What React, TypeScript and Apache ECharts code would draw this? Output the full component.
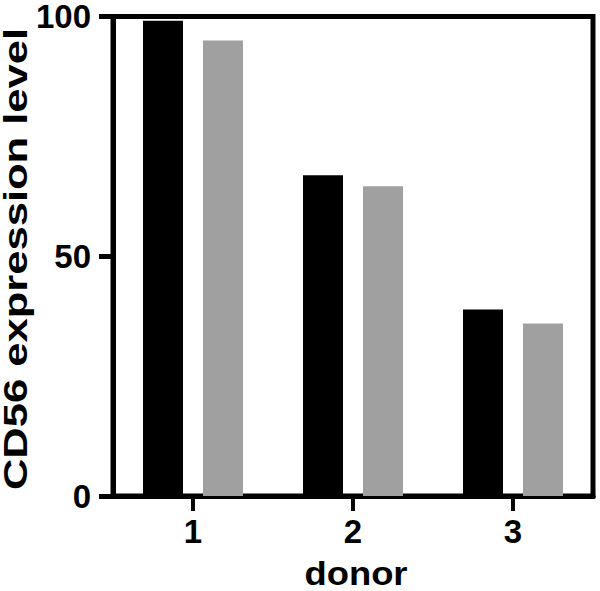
import React, { useEffect, useRef } from "react";
import * as echarts from "echarts";

const categories = ["1", "2", "3"];
const seriesBlack = [99.1, 66.9, 38.9];
const seriesGray = [95.0, 64.6, 36.0];
const yTicks = { min: 0, max: 100, interval: 50 };
const xTitle = "donor";
const yTitle = "CD56 expression level";

const FONT = '"Liberation Sans", Arial, Helvetica, sans-serif';

export default function App() {
  const ref = useRef<HTMLDivElement>(null);
  useEffect(() => {
    if (!ref.current) return;
    const chart = echarts.init(ref.current, null, { renderer: "svg" });
    chart.setOption({
      animation: false,
      backgroundColor: "#ffffff",
      grid: {
        left: 113,
        right: 7,
        top: 15,
        bottom: 95,
        show: true,
        borderColor: "#000",
        borderWidth: 5,
        backgroundColor: "transparent",
      },
      xAxis: {
        type: "category",
        data: categories,
        axisLine: { show: true, lineStyle: { color: "#000", width: 5 } },
        axisTick: { show: true, alignWithLabel: true, length: 15, lineStyle: { color: "#000", width: 4 } },
        axisLabel: { color: "#000", fontSize: 33, fontWeight: "bold", fontFamily: FONT, margin: 19 },
        splitLine: { show: false },
      },
      yAxis: {
        type: "value",
        min: yTicks.min,
        max: yTicks.max,
        interval: yTicks.interval,
        axisLine: { show: true, lineStyle: { color: "#000", width: 5 } },
        axisTick: { show: true, length: 14, lineStyle: { color: "#000", width: 5 } },
        axisLabel: {
          color: "#000",
          fontSize: 33,
          lineHeight: 28,
          fontWeight: "bold",
          fontFamily: FONT,
          margin: 22,
        },
        splitLine: { show: false },
      },
      series: [
        {
          type: "bar",
          data: seriesBlack,
          barWidth: 40,
          barGap: "50%",
          itemStyle: { color: "#000000" },
        },
        {
          type: "bar",
          data: seriesGray,
          barWidth: 40,
          barGap: "50%",
          itemStyle: { color: "#a0a0a0" },
        },
      ],
      graphic: [
        {
          type: "text",
          x: 16,
          y: 259,
          rotation: Math.PI / 2,
          scaleX: 1.34,
          style: {
            text: yTitle,
            align: "center",
            verticalAlign: "middle",
            fontSize: 32.5,
            fontWeight: "bold",
            fontFamily: FONT,
            fill: "#000",
          },
        },
        {
          type: "text",
          x: 356,
          y: 573,
          scaleX: 1.07,
          style: {
            text: xTitle,
            align: "center",
            verticalAlign: "middle",
            fontSize: 34,
            fontWeight: "bold",
            fontFamily: FONT,
            fill: "#000",
          },
        },
      ],
    });
    return () => chart.dispose();
  }, []);
  return (
    <div
      ref={ref}
      style={{ position: "fixed", left: 0, top: 0, width: 600, height: 591 }}
    />
  );
}
